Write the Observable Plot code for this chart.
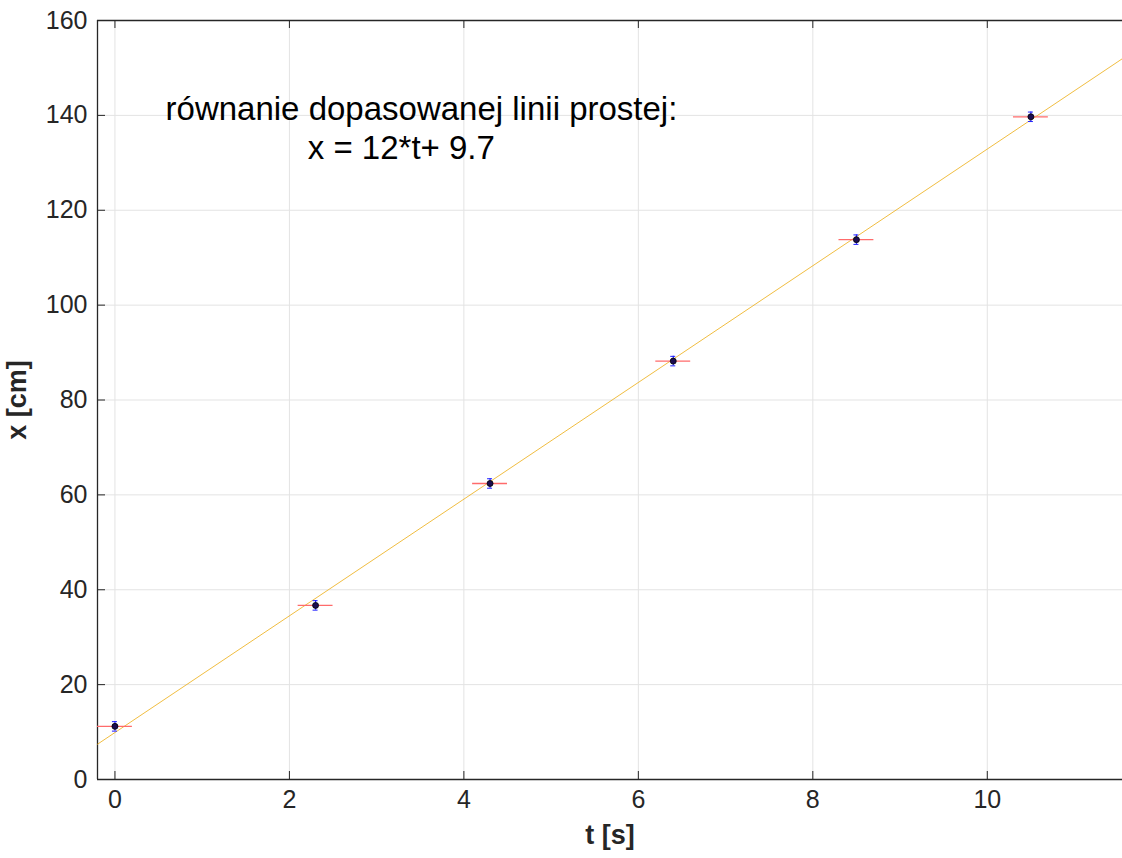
<!DOCTYPE html>
<html><head><meta charset="utf-8">
<script src="https://cdn.jsdelivr.net/npm/d3@7"></script>
<script src="https://cdn.jsdelivr.net/npm/@observablehq/plot@0.6"></script>
<style>
body{margin:0;background:#fff;}
svg{font-family:"Liberation Sans",Arial,Helvetica,sans-serif;}
</style></head><body><div id="chart"></div>
<script>
// data
const tValues = [0, 2.3, 4.3, 6.4, 8.5, 10.5];
const xValues = [11.2, 36.7, 62.4, 88.2, 113.8, 139.7];
const tError = [0.2, 0.2, 0.2, 0.2, 0.2, 0.2];
const xError = [1, 1, 1, 1, 1, 1];
const fitSlope = 12.3;
const fitIntercept = 9.9;
const xTicks = [0, 2, 4, 6, 8, 10];
const yTicks = [0, 20, 40, 60, 80, 100, 120, 140, 160];
const tDomain = [-0.2, 11.55];
const yDomain = [0, 160];
const annotationLines = ["równanie dopasowanej linii prostej:", "x = 12*t+ 9.7"];
const annotationT = [0.58, 2.21];
const annotationX = [141.3, 133.1];

const pts = tValues.map((t, i) => ({t, x: xValues[i], et: tError[i], ex: xError[i]}));
const fit = tDomain.map(t => ({t, x: fitSlope * t + fitIntercept}));
const notes = annotationLines.map((s, i) => ({s, t: annotationT[i], x: annotationX[i]}));
const axisColor = "#262626";
const tl = 8; // inside tick length

const chart = Plot.plot({
  width: 1122, height: 858,
  marginLeft: 97, marginTop: 20, marginRight: 0, marginBottom: 79,
  style: {background: "#fff", fontFamily: "'Liberation Sans', Arial, Helvetica, sans-serif"},
  x: {domain: tDomain, ticks: xTicks},
  y: {domain: yDomain, ticks: yTicks},
  marks: [
    Plot.gridX(xTicks, {stroke: "#e3e3e3", strokeOpacity: 1}),
    Plot.gridY(yTicks, {stroke: "#e3e3e3", strokeOpacity: 1}),
    Plot.axisX(xTicks, {tickSize: 0, tickPadding: 11, fontSize: 25, fill: axisColor, label: null}),
    Plot.axisY(yTicks, {tickSize: 0, tickPadding: 10, fontSize: 25, fill: axisColor, label: null}),
    // inside ticks
    Plot.ruleX(xTicks, {x: d => d, y1: yDomain[0], y2: yDomain[0], insetBottom: tl, stroke: axisColor, strokeWidth: 1}),
    Plot.ruleX(xTicks, {x: d => d, y1: yDomain[1], y2: yDomain[1], insetTop: tl, stroke: axisColor, strokeWidth: 1}),
    Plot.ruleY(yTicks, {y: d => d, x1: tDomain[0], x2: tDomain[0], insetLeft: tl, stroke: axisColor, strokeWidth: 1}),
    // frame
    Plot.ruleY([yDomain[0]], {stroke: axisColor, strokeWidth: 1.3}),
    Plot.ruleY([yDomain[1]], {stroke: axisColor, strokeWidth: 1.3}),
    Plot.ruleX([tDomain[0]], {stroke: axisColor, strokeWidth: 1.3}),
    // fit line
    Plot.line(fit, {x: "t", y: "x", stroke: "#EDB120", strokeWidth: 1, strokeOpacity: 0.85}),
    // error bars
    Plot.ruleY(pts, {y: "x", x1: d => d.t - d.et, x2: d => d.t + d.et, stroke: "#ff6b6b", strokeWidth: 1.3}),
    Plot.ruleX(pts, {x: "t", y1: d => d.x - d.ex, y2: d => d.x + d.ex, stroke: "#1f1fff", strokeWidth: 1.2}),
    Plot.ruleY(pts, {y: d => d.x - d.ex, x1: "t", x2: "t", insetLeft: -2.5, insetRight: -2.5, stroke: "#1f1fff", strokeWidth: 1}),
    Plot.ruleY(pts, {y: d => d.x + d.ex, x1: "t", x2: "t", insetLeft: -2.5, insetRight: -2.5, stroke: "#1f1fff", strokeWidth: 1}),
    Plot.dot(pts, {x: "t", y: "x", r: 3, fill: "#1b0d4f", stroke: "#000", strokeWidth: 0.8}),
    // annotation
    Plot.text(notes, {x: "t", y: "x", text: "s", textAnchor: "start", fontSize: 33, fill: "#000"}),
    // axis labels
    Plot.text(["x [cm]"], {frameAnchor: "left", dx: -80, rotate: -90, textAnchor: "middle", lineAnchor: "middle", fontSize: 27, fontWeight: "bold", fill: axisColor}),
    Plot.text(["t [s]"], {frameAnchor: "bottom", dy: 56, textAnchor: "middle", lineAnchor: "middle", fontSize: 27, fontWeight: "bold", fill: axisColor})
  ]
});
document.getElementById("chart").appendChild(chart);
</script></body></html>
